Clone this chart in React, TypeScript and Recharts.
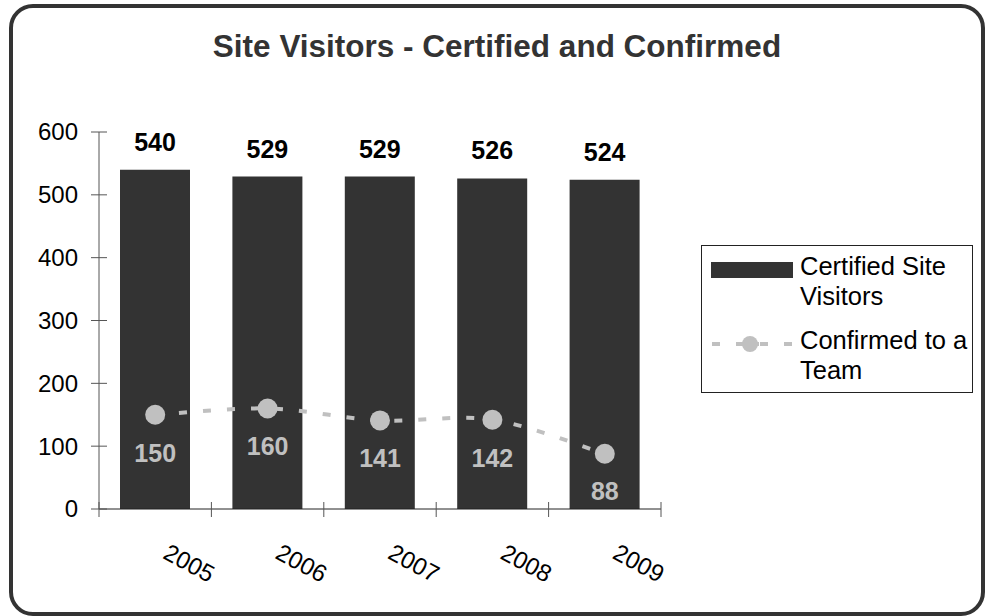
import React from 'react';
import { ComposedChart, Bar, Line, XAxis, YAxis, LabelList } from 'recharts';

const years = ['2005', '2006', '2007', '2008', '2009'];
const certified = [540, 529, 529, 526, 524];
const confirmed = [150, 160, 141, 142, 88];
const yTicks = [0, 100, 200, 300, 400, 500, 600];
const title = 'Site Visitors - Certified and Confirmed';
const seriesNames = ['Certified Site Visitors', 'Confirmed to a Team'];

const data = years.map((year, i) => ({ year, certified: certified[i], confirmed: confirmed[i] }));

const FONT = '"Liberation Sans", Arial, Helvetica, sans-serif';
const BAR = '#333333';
const GRAY = '#c0c0c0';
const AXIS = '#555555';

// Catmull-Rom style smoothing (similar to spreadsheet "smoothed line")
const smoothCurve = (context: any) => {
  let pts: [number, number][] = [];
  return {
    areaStart() {},
    areaEnd() {},
    lineStart() {
      pts = [];
    },
    point(x: number, y: number) {
      pts.push([+x, +y]);
    },
    lineEnd() {
      if (!pts.length) return;
      context.moveTo(pts[0][0], pts[0][1]);
      for (let i = 0; i < pts.length - 1; i++) {
        const p0 = pts[Math.max(i - 1, 0)];
        const p1 = pts[i];
        const p2 = pts[i + 1];
        const p3 = pts[Math.min(i + 2, pts.length - 1)];
        context.bezierCurveTo(
          p1[0] + (p2[0] - p0[0]) / 6,
          p1[1] + (p2[1] - p0[1]) / 6,
          p2[0] - (p3[0] - p1[0]) / 6,
          p2[1] - (p3[1] - p1[1]) / 6,
          p2[0],
          p2[1]
        );
      }
    },
  };
};

const YTick = (props: any) => {
  const { x, y, payload } = props;
  return (
    <g>
      <line x1={x + 13} x2={x + 29} y1={y} y2={y} stroke={AXIS} strokeWidth={1} />
      <text x={x} y={y} dy="0.35em" textAnchor="end" fontSize={24} fill="#000" fontFamily={FONT}>
        {payload.value}
      </text>
    </g>
  );
};

const XTick = (props: any) => {
  const { x, y, payload, index, width, visibleTicksCount } = props;
  const half =
    payload && typeof payload.offset === 'number' && payload.offset > 0
      ? payload.offset
      : width / (visibleTicksCount || years.length) / 2;
  const isLast = index === (visibleTicksCount || years.length) - 1;
  const lx = x + 34;
  const ly = y + 46;
  return (
    <g>
      <line x1={x - half} x2={x - half} y1={y - 15} y2={y} stroke={AXIS} strokeWidth={1} />
      {isLast && <line x1={x + half} x2={x + half} y1={y - 15} y2={y} stroke={AXIS} strokeWidth={1} />}
      <text
        x={lx}
        y={ly}
        dy="0.35em"
        textAnchor="middle"
        fontSize={24}
        fill="#000"
        fontFamily={FONT}
        transform={`rotate(28, ${lx}, ${ly})`}
      >
        {payload.value}
      </text>
    </g>
  );
};

const LegendBox = () => (
  <div
    style={{
      position: 'absolute',
      left: 701,
      top: 245,
      width: 272,
      height: 148,
      boxSizing: 'border-box',
      border: '1px solid #222',
      background: '#fff',
      fontFamily: FONT,
      fontSize: 25.5,
      lineHeight: '30px',
      color: '#000',
    }}
  >
    <svg width={100} height={148} style={{ position: 'absolute', left: 0, top: 0 }}>
      <rect x={9} y={16} width={82} height={16} fill={BAR} />
      <line x1={9} x2={92} y1={98} y2={98} stroke={GRAY} strokeWidth={4} strokeDasharray="8 16" strokeDashoffset={-1} />
      <line x1={40} x2={57} y1={98} y2={98} stroke={GRAY} strokeWidth={4} />
      <circle cx={48} cy={98} r={8} fill={GRAY} />
    </svg>
    <div style={{ position: 'absolute', left: 98, top: 5, width: 172 }}>
      {seriesNames[0].replace(' Visitors', '')}
      <br />
      Visitors
    </div>
    <div style={{ position: 'absolute', left: 98, top: 79, width: 172 }}>
      {seriesNames[1].replace(' Team', '')}
      <br />
      Team
    </div>
  </div>
);

export default function App() {
  return (
    <div
      style={{
        position: 'absolute',
        left: 0,
        top: 0,
        width: 988,
        height: 616,
        overflow: 'hidden',
        background: '#fff',
        fontFamily: FONT,
      }}
    >
      <div
        style={{
          position: 'absolute',
          left: 9,
          top: 4,
          width: 976,
          height: 612,
          boxSizing: 'border-box',
          border: '4.5px solid #333',
          borderRadius: 24,
        }}
      />
      <div
        style={{
          position: 'absolute',
          left: 0,
          top: 30,
          width: 994,
          textAlign: 'center',
          fontSize: 31.5,
          lineHeight: '32px',
          fontWeight: 'bold',
          color: '#333',
          whiteSpace: 'nowrap',
        }}
      >
        {title}
      </div>
      <div style={{ position: 'absolute', left: 0, top: 0 }}>
        <ComposedChart
          width={988}
          height={616}
          data={data}
          margin={{ top: 132, right: 327, bottom: 0, left: 0 }}
          style={{ fontFamily: FONT }}
        >
          <XAxis
            dataKey="year"
            height={107}
            interval={0}
            tickSize={8}
            tickMargin={0}
            tickLine={false}
            axisLine={{ stroke: '#222', strokeWidth: 1 }}
            tick={<XTick />}
          />
          <YAxis
            type="number"
            domain={[0, 600]}
            ticks={yTicks}
            width={99}
            tickSize={8}
            tickMargin={13}
            tickLine={false}
            axisLine={{ stroke: AXIS, strokeWidth: 1 }}
            tick={<YTick />}
          />
          <Bar dataKey="certified" name={seriesNames[0]} fill={BAR} barSize={70} isAnimationActive={false}>
            <LabelList
              dataKey="certified"
              position="top"
              offset={19}
              fill="#000"
              fontSize={25}
              fontWeight="bold"
              fontFamily={FONT}
            />
          </Bar>
          <Line
            dataKey="confirmed"
            name={seriesNames[1]}
            type={smoothCurve as any}
            stroke={GRAY}
            strokeWidth={4}
            strokeDasharray="8 16"
            dot={{ r: 10, fill: GRAY, stroke: 'none' }}
            activeDot={false}
            isAnimationActive={false}
          >
            <LabelList
              dataKey="confirmed"
              position="bottom"
              offset={29}
              fill={GRAY}
              fontSize={25}
              fontWeight="bold"
              fontFamily={FONT}
            />
          </Line>
        </ComposedChart>
      </div>
      <LegendBox />
    </div>
  );
}
